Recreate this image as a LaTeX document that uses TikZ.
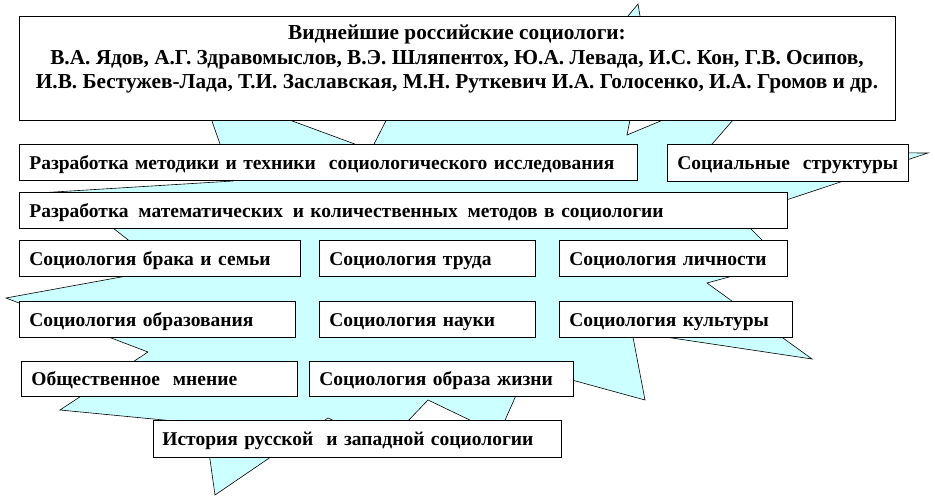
\documentclass[tikz,border=0pt]{standalone}
\usepackage{fontspec}
\setmainfont{Liberation Serif}
\definecolor{starcyan}{RGB}{204,255,255}
\begin{document}
\begin{tikzpicture}[x=1pt,y=-1pt,
  txt/.style={font=\bfseries\fontsize{19.5}{24.5}\selectfont},
  titletxt/.style={font=\bfseries\fontsize{21.3}{24.5}\selectfont},
  box/.style={txt, draw=black, line width=0.7pt, fill=white, anchor=north west,
    inner xsep=10pt, inner ysep=0pt, align=left,
    execute at begin node={\rule[-4pt]{0pt}{22pt}}},
  starshape/.style={draw=black, line width=0.6pt, fill=starcyan, line join=miter}]
\useasboundingbox (0,0) rectangle (935,500);
% starburst background
\draw[starshape] (638,4) -- (640,16) -- (645,45) -- (630,120) -- (627,135) -- (663,120)
  -- (773,74) -- (733,120) -- (713,143) -- (705,152) -- (928,153) -- (738,216)
  -- (784,262) -- (707,283) -- (812,359) -- (632,332) -- (645,400) -- (528,368)
  -- (499,434) -- (428,400) -- (385,445) -- (328,418) -- (215,495) -- (205,424)
  -- (60,410) -- (148,352) -- (6,298) -- (165,269) -- (113,228) -- (22,194)
  -- (233,181) -- (200,87) -- (371,150) -- (417,60) -- (575,80) -- cycle;
% title box
\node[draw=black, line width=0.7pt, fill=white, anchor=north west, inner sep=0pt,
  minimum width=876pt, minimum height=104pt] (top) at (19,16) {};
\node[titletxt, align=center, anchor=north, inner sep=0pt] (toptext) at (457,25)
  {Виднейшие российские социологи:\\
   В.А. Ядов, А.Г. Здравомыслов, В.Э. Шляпентох, Ю.А. Левада, И.С. Кон, Г.В. Осипов,\\
   И.В. Бестужев-Лада, Т.И. Заславская, М.Н. Руткевич И.А. Голосенко, И.А. Громов и др.};
% topic boxes
\node[box, minimum width=618pt, minimum height=36pt, text width=598pt] (b1) at (19,144)
  {Разработка методики и техники\ \ социологического исследования};
\node[box, minimum width=241pt, minimum height=37pt, text width=221pt] (b2) at (667,144)
  {Социальные\ \ структуры};
\node[box, minimum width=768pt, minimum height=36pt, text width=748pt] (b3) at (19,192)
  {Разработка \,математических \,и количественных \,методов в социологии};
\node[box, minimum width=281pt, minimum height=36pt, text width=261pt] (r1a) at (19,240)
  {Социология брака и семьи};
\node[box, minimum width=216pt, minimum height=36pt, text width=196pt] (r1b) at (319,240)
  {Социология труда};
\node[box, minimum width=228pt, minimum height=36pt, text width=208pt] (r1c) at (559,240)
  {Социология личности};
\node[box, minimum width=276pt, minimum height=36pt, text width=256pt] (r2a) at (19,301)
  {Социология образования};
\node[box, minimum width=216pt, minimum height=36pt, text width=196pt] (r2b) at (319,301)
  {Социология науки};
\node[box, minimum width=233pt, minimum height=36pt, text width=213pt] (r2c) at (559,301)
  {Социология культуры};
\node[box, minimum width=276pt, minimum height=35pt, text width=256pt] (r3a) at (21,361)
  {Общественное\ \ мнение};
\node[box, minimum width=264pt, minimum height=35pt, text width=244pt] (r3b) at (309,361)
  {Социология образа жизни};
\node[box, minimum width=408pt, minimum height=37pt, text width=390pt, inner xsep=9pt] (hist) at (153,420)
  {История русской\ \ и западной социологии};
\end{tikzpicture}
\end{document}
